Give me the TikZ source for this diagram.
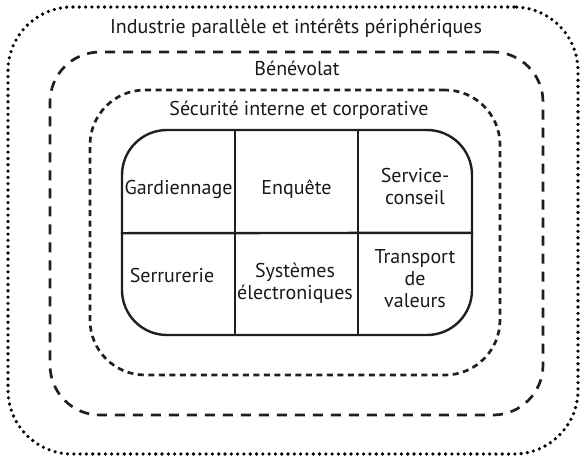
\documentclass[tikz,border=0pt]{standalone}
\usepackage{fontspec}
\setmainfont{PT Sans}
\begin{document}
\begin{tikzpicture}[x=1pt,y=-1pt,
  ring/.style={draw=black!88,rectangle,inner sep=0pt},
  dotring/.style={ring,draw=black,line width=3.6pt,line cap=round,dash pattern=on 0pt off 6.3pt,rounded corners=64pt},
  bigdash/.style={ring,line width=2.7pt,dash pattern=on 10pt off 8pt,rounded corners=50pt},
  smalldash/.style={ring,line width=2.7pt,dash pattern=on 6pt off 4.5pt,rounded corners=55pt},
  corebox/.style={ring,line width=2.4pt,rounded corners=45pt},
  cell/.style={rectangle,inner sep=0pt},
  lab/.style={font=\fontsize{20}{22}\selectfont,inner sep=0pt,anchor=base,text=black!90},
  mlab/.style={font=\fontsize{20}{22}\selectfont,inner sep=0pt,align=center,text=black!90},
  div/.style={line width=2.4pt,draw=black!88}]
\useasboundingbox (0,0) rectangle (580,456);
\node[dotring,minimum width=570pt,minimum height=447pt] (outer) at (293,230.5) {};
\node[bigdash,minimum width=493pt,minimum height=363pt] (middle) at (296.5,233.5) {};
\node[smalldash,minimum width=410pt,minimum height=285pt] (inner) at (295,232.5) {};
\node[corebox,minimum width=350pt,minimum height=205pt] (core) at (297,232.5) {};
% cells
\node[cell,minimum width=113pt,minimum height=103pt] (g) at (178.5,181.5) {};
\node[cell,minimum width=123pt,minimum height=103pt] (e) at (296.5,181.5) {};
\node[cell,minimum width=114pt,minimum height=103pt] (s) at (415,181.5) {};
\node[cell,minimum width=113pt,minimum height=102pt] (sr) at (178.5,284) {};
\node[cell,minimum width=123pt,minimum height=102pt] (sy) at (296.5,284) {};
\node[cell,minimum width=114pt,minimum height=102pt] (tr) at (415,284) {};
\draw[div] (g.north east) -- (sr.south east);
\draw[div] (e.north east) -- (sy.south east);
\draw[div] (g.south west -| core.west) -- (tr.north east -| core.east);
% labels
\node[lab] (t1) at (296,33) {Industrie parallèle et intérêts périphériques};
\node[lab] (t2) at (297,75) {Bénévolat};
\node[lab] (t3) at (299,115) {Sécurité interne et corporative};
\node[lab] (lg) at (178.5,194) {Gardiennage};
\node[lab] (le) at (296.5,194) {Enquête};
\node[mlab] (ls) at (415,186) {Service-\\conseil};
\node[lab] (lsr) at (172,282) {Serrurerie};
\node[mlab] (lsy) at (295,283) {Systèmes\\électroniques};
\node[mlab] (ltr) at (415,279) {Transport\\de\\valeurs};
\end{tikzpicture}
\end{document}
